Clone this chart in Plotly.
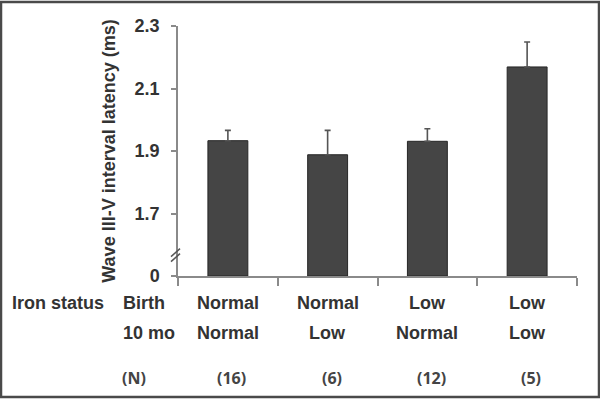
import plotly.graph_objects as go

# ---- data ----
categories = ["NN", "NL", "LN", "LL"]
birth_status = ["Normal", "Normal", "Low", "Low"]
mo10_status = ["Normal", "Low", "Normal", "Low"]
n_labels = ["(16)", "(6)", "(12)", "(5)"]
latency = [1.933, 1.888, 1.931, 2.169]
latency_err = [0.033, 0.078, 0.040, 0.080]
ytick_vals = [1.5, 1.7, 1.9, 2.1, 2.3]
ytick_text = ["0", "1.7", "1.9", "2.1", "2.3"]
axis_base = 1.5  # value drawn at the broken "0" position

FONT = "Liberation Sans, Arial, sans-serif"
TXT = "#333333"
AXC = "#8a8a8a"

fig = go.Figure()
fig.add_trace(go.Bar(
    x=categories,
    y=[v - axis_base for v in latency],
    base=axis_base,
    marker=dict(color="#454545", line=dict(color="#262626", width=1)),
    error_y=dict(type="data", array=latency_err, arrayminus=[0] * len(latency_err),
                 symmetric=False, color="#555555", thickness=1.6, width=3),
    width=0.4,
    showlegend=False,
))

annotations = []
for c, b, m, n in zip(categories, birth_status, mo10_status, n_labels):
    annotations.append(dict(x=c, xref="x", y=0, yref="paper", text=b, showarrow=False,
                            xanchor="center", yanchor="middle", yshift=-27,
                            font=dict(family=FONT, size=18, color=TXT, weight="bold")))
    annotations.append(dict(x=c, xref="x", y=0, yref="paper", text=m, showarrow=False,
                            xanchor="center", yanchor="middle", yshift=-57,
                            font=dict(family=FONT, size=18, color=TXT, weight="bold")))
    annotations.append(dict(x=c, xref="x", y=0, yref="paper", text=n, showarrow=False,
                            xanchor="center", yanchor="middle", yshift=-102, xshift=4,
                            font=dict(family="Open Sans, sans-serif", size=16, color="#444444", weight="bold")))

for text, xs, ys, anchor, fnt, col, sz in [
    ("Iron status", -168, -27, "left", FONT, TXT, 18),
    ("Birth", -57, -27, "left", FONT, TXT, 18),
    ("10 mo", -57, -57, "left", FONT, TXT, 18),
    ("(N)", -44, -102, "center", "Open Sans, sans-serif", "#444444", 16),
]:
    annotations.append(dict(x=0, xref="paper", y=0, yref="paper", text=text, showarrow=False,
                            xanchor=anchor, yanchor="middle", xshift=xs, yshift=ys,
                            font=dict(family=fnt, size=sz, color=col, weight="bold")))

shapes = []
# axis break marks
for dy in (0, 5):
    shapes.append(dict(type="line", xref="paper", yref="y",
                       xsizemode="pixel", ysizemode="pixel",
                       xanchor=0, yanchor=1.562,
                       x0=-7, x1=2, y0=-5 + dy, y1=3 + dy,
                       line=dict(color="#555555", width=1.5)))
# outer frame
shapes.append(dict(type="rect", xref="paper", yref="paper",
                   xsizemode="pixel", ysizemode="pixel", xanchor=0, yanchor=0,
                   x0=-177, x1=421, y0=-121, y1=274,
                   line=dict(color="#4a4a4a", width=2.5), fillcolor="rgba(0,0,0,0)"))

fig.update_layout(
    width=600, height=400,
    margin=dict(l=178, r=23, t=26, b=124, autoexpand=False),
    paper_bgcolor="white", plot_bgcolor="white",
    font=dict(family=FONT, color=TXT),
    annotations=annotations,
    shapes=shapes,
    xaxis=dict(showline=True, linecolor=AXC, linewidth=1.5, ticks="outside",
               tickson="boundaries", ticklen=8, tickcolor=AXC, tickwidth=1.5,
               showticklabels=False, showgrid=False, zeroline=False, automargin=False),
    yaxis=dict(range=[1.5, 2.3], tickvals=ytick_vals, ticktext=ytick_text,
               showline=True, linecolor=AXC, linewidth=1.5, ticks="outside",
               ticklen=5, tickcolor=AXC, tickwidth=1.5, showgrid=False, zeroline=False,
               ticklabelstandoff=8, automargin=False,
               tickfont=dict(family=FONT, size=18, color=TXT, weight="bold"),
               title=dict(text="Wave III-V interval latency (ms)", standoff=14,
                          font=dict(family=FONT, size=18, color=TXT, weight="bold"))),
)

fig.write_html("out.html", config={"displayModeBar": False},
               post_script="document.body.style.margin='0';")
